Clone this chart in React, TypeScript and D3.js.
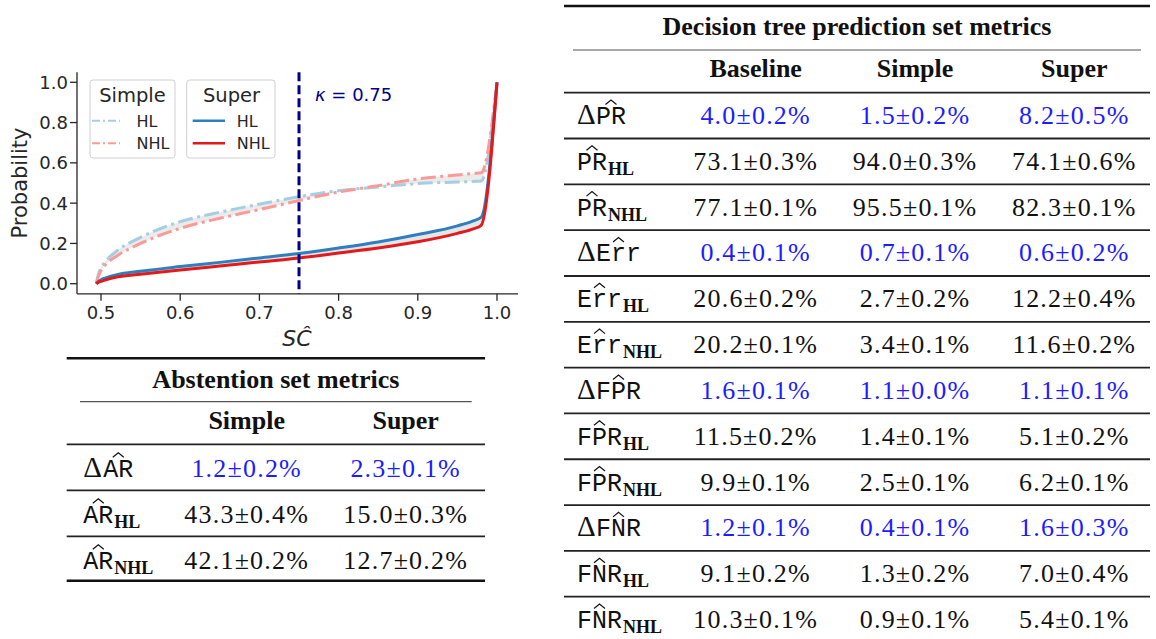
import React from 'react';
import * as d3 from 'd3';

// ---------- chart data ----------
const scGrid = [0.494, 0.497, 0.5, 0.505, 0.52, 0.55, 0.6, 0.65, 0.7, 0.75, 0.8, 0.85, 0.9, 0.95, 0.97, 0.98, 1.0];
const simpleHL = [0, 0.05, 0.08, 0.108, 0.163, 0.23, 0.308, 0.355, 0.395, 0.432, 0.462, 0.48, 0.497, 0.505, 0.508, 0.51, 1.0];
const simpleNHL = [0, 0.04, 0.065, 0.092, 0.138, 0.2, 0.275, 0.325, 0.368, 0.413, 0.455, 0.487, 0.52, 0.54, 0.547, 0.551, 1.0];
const superHL = [0, 0.012, 0.02, 0.028, 0.045, 0.062, 0.085, 0.106, 0.128, 0.15, 0.177, 0.207, 0.244, 0.287, 0.312, 0.33, 1.0];
const superNHL = [0, 0.008, 0.012, 0.018, 0.033, 0.047, 0.068, 0.088, 0.108, 0.128, 0.152, 0.177, 0.208, 0.25, 0.272, 0.29, 1.0];
const xTicks = [0.5, 0.6, 0.7, 0.8, 0.9, 1.0];
const yTicks = [0, 0.2, 0.4, 0.6, 0.8, 1.0];
const kappa = 0.75;

// ---------- abstention table ----------
const absTitle = 'Abstention set metrics';
const absCols = ['Simple', 'Super'];
const absDelta = [true, false, false];
const absName = ['AR', 'AR', 'AR'];
const absSub = ['', 'HL', 'NHL'];
const absSimple = ['1.2±0.2%', '43.3±0.4%', '42.1±0.2%'];
const absSuper = ['2.3±0.1%', '15.0±0.3%', '12.7±0.2%'];

// ---------- decision tree table ----------
const dtTitle = 'Decision tree prediction set metrics';
const dtCols = ['Baseline', 'Simple', 'Super'];
const dtDelta = [true, false, false, true, false, false, true, false, false, true, false, false];
const dtName = ['PR', 'PR', 'PR', 'Err', 'Err', 'Err', 'FPR', 'FPR', 'FPR', 'FNR', 'FNR', 'FNR'];
const dtSub = ['', 'HL', 'NHL', '', 'HL', 'NHL', '', 'HL', 'NHL', '', 'HL', 'NHL'];
const dtBaseline = ['4.0±0.2%', '73.1±0.3%', '77.1±0.1%', '0.4±0.1%', '20.6±0.2%', '20.2±0.1%', '1.6±0.1%', '11.5±0.2%', '9.9±0.1%', '1.2±0.1%', '9.1±0.2%', '10.3±0.1%'];
const dtSimple = ['1.5±0.2%', '94.0±0.3%', '95.5±0.1%', '0.7±0.1%', '2.7±0.2%', '3.4±0.1%', '1.1±0.0%', '1.4±0.1%', '2.5±0.1%', '0.4±0.1%', '1.3±0.2%', '0.9±0.1%'];
const dtSuper = ['8.2±0.5%', '74.1±0.6%', '82.3±0.1%', '0.6±0.2%', '12.2±0.4%', '11.6±0.2%', '1.1±0.1%', '5.1±0.2%', '6.2±0.1%', '1.6±0.3%', '7.0±0.4%', '5.4±0.1%'];

const C_SIMPLE_HL = '#a6cee3';
const C_SIMPLE_NHL = '#fb9a99';
const C_SUPER_HL = '#2f7fbf';
const C_SUPER_NHL = '#e31a1c';
const BLUE_TXT = '#1c1cff';
const SERIF = '"Liberation Serif", "Times New Roman", serif';
const MONO = '"Liberation Mono", "DejaVu Sans Mono", monospace';
const SANS = '"DejaVu Sans", sans-serif';

function RowLabel({ x, y, delta, name, sub, deltaW }: any) {
  const nameX = x + (delta ? deltaW : 0);
  const charW = 15;
  const cx = nameX + (name.length * charW) / 2;
  return (
    <g>
      <path d={`M${cx - 5.5},${y - 19.5} L${cx},${y - 24} L${cx + 5.5},${y - 19.5}`} fill="none" stroke="#111" strokeWidth={1.2} />
      <text x={x} y={y} fill="#111" fontFamily={SERIF} fontSize={26}>
        {delta && <tspan x={x} y={y} fontSize={29}>Δ</tspan>}
        <tspan x={nameX} y={y} fontFamily={MONO} fontSize={25}>{name}</tspan>
        {sub && (
          <tspan x={nameX + name.length * charW + 1} y={y + 5} fontWeight="bold" fontSize={18}>{sub}</tspan>
        )}
      </text>
    </g>
  );
}

function Chart() {
  const x = d3.scaleLinear().domain([0.4697, 1.0265]).range([77, 518]);
  const y = d3.scaleLinear().domain([-0.05, 1.05]).range([293.8, 72.2]);
  const idx = d3.range(scGrid.length);
  const line = (arr: number[]) =>
    d3.line<number>().x((i) => x(scGrid[i])).y((i) => y(arr[i])).curve(d3.curveMonotoneX)(idx) || '';
  const area = (a: number[], b: number[]) =>
    d3.area<number>().x((i) => x(scGrid[i])).y0((i) => y(a[i])).y1((i) => y(b[i])).curve(d3.curveMonotoneX)(idx) || '';
  const [y0, y1] = y.range();
  const [x0, x1] = x.range();
  const dashdot = '15 4.5 3 4.5';
  return (
    <g>
      <path d={area(simpleHL, simpleNHL)} fill="#bdbdbd" fillOpacity={0.3} />
      <path d={area(superHL, superNHL)} fill="#bdbdbd" fillOpacity={0.4} />
      <path d={line(simpleHL)} fill="none" stroke={C_SIMPLE_HL} strokeWidth={3} strokeDasharray={dashdot} />
      <path d={line(simpleNHL)} fill="none" stroke={C_SIMPLE_NHL} strokeWidth={3} strokeDasharray={dashdot} />
      <path d={line(superHL)} fill="none" stroke={C_SUPER_HL} strokeWidth={3} />
      <path d={line(superNHL)} fill="none" stroke={C_SUPER_NHL} strokeWidth={3} />
      <line x1={x(kappa)} x2={x(kappa)} y1={y1} y2={y0} stroke="#00008b" strokeWidth={3} strokeDasharray="9 4" />
      {/* spines */}
      <line x1={x0} x2={x0} y1={y1} y2={y0} stroke="#262626" strokeWidth={1.3} />
      <line x1={x0} x2={x1} y1={y0} y2={y0} stroke="#262626" strokeWidth={1.3} />
      {yTicks.map((t) => (
        <g key={'y' + t}>
          <line x1={x0 - 7} x2={x0} y1={y(t)} y2={y(t)} stroke="#262626" strokeWidth={1.3} />
          <text x={x0 - 9} y={y(t)} dy="0.36em" textAnchor="end" fontFamily={SANS} fontSize={18} fill="#262626">{d3.format('.1f')(t)}</text>
        </g>
      ))}
      {xTicks.map((t) => (
        <g key={'x' + t}>
          <line x1={x(t)} x2={x(t)} y1={y0} y2={y0 + 7} stroke="#262626" strokeWidth={1.3} />
          <text x={x(t)} y={y0 + 25} textAnchor="middle" fontFamily={SANS} fontSize={18} fill="#262626">{d3.format('.1f')(t)}</text>
        </g>
      ))}
      <text transform="translate(27,183) rotate(-90)" textAnchor="middle" fontFamily={SANS} fontSize={21} fill="#262626">Probability</text>
      <text x={297} y={346} textAnchor="middle" fontFamily={SANS} fontStyle="italic" fontSize={22} fill="#262626">SĈ</text>
      <text x={x(kappa) + 16} y={101} fontFamily={SANS} fontSize={18} fill="#00008b">
        <tspan fontStyle="italic">κ</tspan> = {kappa}
      </text>
      {/* legends */}
      <g>
        <rect x={90} y={80} width={85} height={78} rx={3} fill="#fff" fillOpacity={0.8} stroke="#d0d0d0" strokeWidth={1} />
        <text x={132.5} y={102} textAnchor="middle" fontFamily={SANS} fontSize={19.5} fill="#262626">Simple</text>
        <line x1={92} x2={120} y1={120.7} y2={120.7} stroke={C_SIMPLE_HL} strokeWidth={2} strokeDasharray="8 3 2 3" />
        <line x1={92} x2={120} y1={143.3} y2={143.3} stroke={C_SIMPLE_NHL} strokeWidth={2} strokeDasharray="8 3 2 3" />
        <text x={136.5} y={126.5} fontFamily={SANS} fontSize={16} fill="#262626">HL</text>
        <text x={136.5} y={149} fontFamily={SANS} fontSize={16} fill="#262626">NHL</text>
      </g>
      <g>
        <rect x={186.7} y={80} width={88.3} height={78} rx={3} fill="#fff" fillOpacity={0.8} stroke="#d0d0d0" strokeWidth={1} />
        <text x={231.5} y={102} textAnchor="middle" fontFamily={SANS} fontSize={19.5} fill="#262626">Super</text>
        <line x1={192.7} x2={225} y1={120.7} y2={120.7} stroke={C_SUPER_HL} strokeWidth={2.5} />
        <line x1={192.7} x2={225} y1={143.3} y2={143.3} stroke={C_SUPER_NHL} strokeWidth={2.5} />
        <text x={236.7} y={126.5} fontFamily={SANS} fontSize={16} fill="#262626">HL</text>
        <text x={236.7} y={149} fontFamily={SANS} fontSize={16} fill="#262626">NHL</text>
      </g>
    </g>
  );
}

function NumText({ x, y, v, blue }: any) {
  return (
    <text x={x} y={y} textAnchor="middle" fontFamily={SERIF} fontSize={26} letterSpacing={1.2} fill={blue ? BLUE_TXT : '#111'}>{v}</text>
  );
}

function AbstentionTable() {
  const left = 66.7, right = 485;
  const cols = d3.scaleBand<string>().domain(absCols).range([167.2, 485.2]);
  const rows = d3.scaleBand<number>().domain(d3.range(absName.length)).range([444.3, 444.3 + 46 * absName.length]);
  const colVals = [absSimple, absSuper];
  const bottom = rows.range()[1];
  return (
    <g>
      <line x1={left} x2={right} y1={358.3} y2={358.3} stroke="#111" strokeWidth={2.6} />
      <text x={(left + right) / 2} y={388.3} textAnchor="middle" fontFamily={SERIF} fontWeight="bold" fontSize={26} fill="#111">{absTitle}</text>
      <line x1={80} x2={471.7} y1={401.7} y2={401.7} stroke="#555" strokeWidth={1.2} />
      {absCols.map((c) => (
        <text key={c} x={(cols(c) || 0) + cols.bandwidth() / 2} y={429} textAnchor="middle" fontFamily={SERIF} fontWeight="bold" fontSize={26} fill="#111">{c}</text>
      ))}
      <line x1={left} x2={right} y1={444.3} y2={444.3} stroke="#222" strokeWidth={1.8} />
      {absName.map((n, i) => {
        const top = rows(i) || 0;
        const base = top + 32.4;
        return (
          <g key={i}>
            <RowLabel x={83.3} y={base} delta={absDelta[i]} name={n} sub={absSub[i]} deltaW={20} />
            {absCols.map((c, j) => (
              <NumText key={c} x={(cols(c) || 0) + cols.bandwidth() / 2} y={base} v={colVals[j][i]} blue={absDelta[i]} />
            ))}
            {i < absName.length - 1 && (
              <line x1={left} x2={right} y1={top + rows.bandwidth()} y2={top + rows.bandwidth()} stroke="#222" strokeWidth={1.8} />
            )}
          </g>
        );
      })}
      <line x1={left} x2={right} y1={bottom - 1.6} y2={bottom - 1.6} stroke="#111" strokeWidth={2.6} />
    </g>
  );
}

function DecisionTable() {
  const left = 564, right = 1150;
  const cols = d3.scaleBand<string>().domain(dtCols).range([676, 1154]);
  const rows = d3.scaleBand<number>().domain(d3.range(dtName.length)).range([92.7, 92.7 + 45.82 * dtName.length]);
  const colVals = [dtBaseline, dtSimple, dtSuper];
  return (
    <g>
      <line x1={left} x2={right} y1={6} y2={6} stroke="#111" strokeWidth={2.6} />
      <text x={857} y={35} textAnchor="middle" fontFamily={SERIF} fontWeight="bold" fontSize={26} fill="#111">{dtTitle}</text>
      <line x1={573} x2={1141} y1={50} y2={50} stroke="#555" strokeWidth={1.2} />
      {dtCols.map((c) => (
        <text key={c} x={(cols(c) || 0) + cols.bandwidth() / 2} y={77} textAnchor="middle" fontFamily={SERIF} fontWeight="bold" fontSize={26} fill="#111">{c}</text>
      ))}
      <line x1={left} x2={right} y1={92.7} y2={92.7} stroke="#222" strokeWidth={1.8} />
      {dtName.map((n, i) => {
        const top = rows(i) || 0;
        const base = top + 31.3;
        return (
          <g key={i}>
            <RowLabel x={577} y={base} delta={dtDelta[i]} name={n} sub={dtSub[i]} deltaW={19} />
            {dtCols.map((c, j) => (
              <NumText key={c} x={(cols(c) || 0) + cols.bandwidth() / 2} y={base} v={colVals[j][i]} blue={dtDelta[i]} />
            ))}
            {i < dtName.length - 1 && (
              <line x1={left} x2={right} y1={top + rows.bandwidth()} y2={top + rows.bandwidth()} stroke="#222" strokeWidth={1.8} />
            )}
          </g>
        );
      })}
    </g>
  );
}

export default function App() {
  return (
    <svg width={1156} height={639} style={{ position: 'absolute', left: 0, top: 0, background: '#fff' }}>
      <rect x={0} y={0} width={1156} height={639} fill="#fff" />
      <Chart />
      <AbstentionTable />
      <DecisionTable />
    </svg>
  );
}
